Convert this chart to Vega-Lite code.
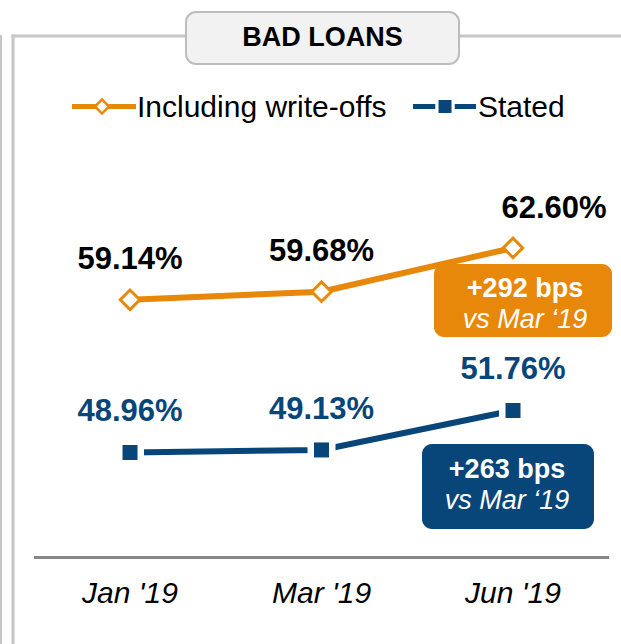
{
  "$schema": "https://vega.github.io/schema/vega-lite/v6.json",
  "width": 621,
  "height": 644,
  "padding": 0,
  "autosize": {"type": "none"},
  "background": "#ffffff",
  "config": {
    "view": {"stroke": null},
    "axis": {"disable": true},
    "font": "Liberation Sans"
  },
  "datasets": {
    "points": [
      {"month": "Jan '19", "i": 0, "series": "Including write-offs", "value": 59.14, "label": "59.14%"},
      {"month": "Mar '19", "i": 1, "series": "Including write-offs", "value": 59.68, "label": "59.68%"},
      {"month": "Jun '19", "i": 2, "series": "Including write-offs", "value": 62.60, "label": "62.60%"},
      {"month": "Jan '19", "i": 0, "series": "Stated", "value": 48.96, "label": "48.96%"},
      {"month": "Mar '19", "i": 1, "series": "Stated", "value": 49.13, "label": "49.13%"},
      {"month": "Jun '19", "i": 2, "series": "Stated", "value": 51.76, "label": "51.76%"}
    ],
    "callouts": [
      {"series": "Including write-offs", "delta": "+292 bps", "vs": "vs Mar ‘19"},
      {"series": "Stated", "delta": "+263 bps", "vs": "vs Mar ‘19"}
    ],
    "one": [{}]
  },
  "layer": [
    {
      "data": {"name": "points"},
      "mark": {"type": "line", "strokeWidth": 6},
      "encoding": {
        "x": {"field": "i", "type": "quantitative", "scale": {"domain": [-0.6789, 2.5639], "nice": false, "zero": false}},
        "y": {"field": "value", "type": "quantitative", "scale": {"domain": [36.193, 79.127], "nice": false, "zero": false}},
        "color": {"field": "series", "type": "nominal", "scale": {"domain": ["Including write-offs", "Stated"], "range": ["#E8880A", "#08467A"]}, "legend": null},
        "detail": {"field": "series"}
      }
    },
    {
      "data": {"name": "one"},
      "mark": {"type": "rule", "color": "#C6C6C6", "strokeWidth": 2},
      "encoding": {"x": {"datum": -0.6737}, "y": {"datum": 76.79}, "y2": {"datum": 36.193}}
    },
    {
      "data": {"name": "one"},
      "mark": {"type": "rule", "color": "#C6C6C6", "strokeWidth": 3, "strokeCap": "square"},
      "encoding": {"x": {"datum": -0.611}, "y": {"datum": 76.727}, "y2": {"datum": 36.193}}
    },
    {
      "data": {"name": "one"},
      "mark": {"type": "rule", "color": "#C6C6C6", "strokeWidth": 3, "strokeCap": "square"},
      "encoding": {"x": {"datum": -0.611}, "x2": {"datum": 2.5639}, "y": {"datum": 76.727}}
    },
    {
      "data": {"name": "one"},
      "mark": {"type": "rect", "fill": "#F2F2F2", "stroke": "#BDBDBD", "strokeWidth": 2, "cornerRadius": 10},
      "encoding": {"x": {"datum": 0.2924}, "x2": {"datum": 1.718}, "y": {"datum": 78.327}, "y2": {"datum": 74.86}}
    },
    {
      "data": {"name": "one"},
      "mark": {"type": "text", "text": "BAD LOANS", "fontSize": 27, "fontWeight": "bold", "color": "#000000", "align": "center", "baseline": "middle", "dy": 1},
      "encoding": {"x": {"datum": 1.0052}, "y": {"datum": 76.627}}
    },
    {
      "data": {"name": "one"},
      "mark": {"type": "rule", "color": "#E8880A", "strokeWidth": 5},
      "encoding": {"x": {"datum": -0.3029}, "x2": {"datum": 0.0313}, "y": {"datum": 72.027}}
    },
    {
      "data": {"name": "one"},
      "mark": {"type": "point", "shape": "diamond", "filled": true, "fill": "#ffffff", "stroke": "#E8880A", "strokeWidth": 2.5, "size": 200, "opacity": 1},
      "encoding": {"x": {"datum": -0.1463}, "y": {"datum": 72.027}}
    },
    {
      "data": {"name": "one"},
      "mark": {"type": "text", "text": "Including write-offs", "fontSize": 30, "color": "#000000", "align": "left", "baseline": "middle", "dy": 2},
      "encoding": {"x": {"datum": 0.0365}, "y": {"datum": 72.027}}
    },
    {
      "data": {"name": "one"},
      "mark": {"type": "rule", "color": "#08467A", "strokeWidth": 5},
      "encoding": {"x": {"datum": 1.4777}, "x2": {"datum": 1.8067}, "y": {"datum": 72.027}}
    },
    {
      "data": {"name": "one"},
      "mark": {"type": "square", "color": "#ffffff", "size": 380, "opacity": 1},
      "encoding": {"x": {"datum": 1.6449}, "y": {"datum": 72.027}}
    },
    {
      "data": {"name": "one"},
      "mark": {"type": "square", "color": "#08467A", "size": 169, "opacity": 1},
      "encoding": {"x": {"datum": 1.6449}, "y": {"datum": 72.027}}
    },
    {
      "data": {"name": "one"},
      "mark": {"type": "text", "text": "Stated", "fontSize": 30, "color": "#000000", "align": "left", "baseline": "middle", "dy": 2},
      "encoding": {"x": {"datum": 1.8172}, "y": {"datum": 72.027}}
    },
    {
      "data": {"name": "points"},
      "transform": [{"filter": "datum.series === 'Including write-offs'"}],
      "mark": {"type": "point", "shape": "diamond", "filled": true, "fill": "#ffffff", "stroke": "#E8880A", "strokeWidth": 3, "size": 380, "opacity": 1},
      "encoding": {"x": {"field": "i", "type": "quantitative"}, "y": {"field": "value", "type": "quantitative"}}
    },
    {
      "data": {"name": "points"},
      "transform": [{"filter": "datum.series === 'Stated'"}],
      "mark": {"type": "square", "color": "#ffffff", "size": 784, "opacity": 1},
      "encoding": {"x": {"field": "i", "type": "quantitative"}, "y": {"field": "value", "type": "quantitative"}}
    },
    {
      "data": {"name": "points"},
      "transform": [{"filter": "datum.series === 'Stated'"}],
      "mark": {"type": "square", "color": "#08467A", "size": 225, "opacity": 1},
      "encoding": {"x": {"field": "i", "type": "quantitative"}, "y": {"field": "value", "type": "quantitative"}}
    },
    {
      "data": {"name": "points"},
      "transform": [{"filter": "!(datum.series === 'Including write-offs' && datum.i === 2)"}],
      "mark": {"type": "text", "fontSize": 31, "fontWeight": "bold", "align": "center", "baseline": "middle", "dy": -40},
      "encoding": {
        "x": {"field": "i", "type": "quantitative"},
        "y": {"field": "value", "type": "quantitative"},
        "text": {"field": "label"},
        "color": {"condition": {"test": "datum.series === 'Stated'", "value": "#08467A"}, "value": "#000000"}
      }
    },
    {
      "data": {"name": "points"},
      "transform": [{"filter": "datum.series === 'Including write-offs' && datum.i === 2"}],
      "mark": {"type": "text", "fontSize": 31, "fontWeight": "bold", "align": "center", "baseline": "middle", "dy": -39, "dx": 41, "color": "#000000"},
      "encoding": {
        "x": {"field": "i", "type": "quantitative"},
        "y": {"field": "value", "type": "quantitative"},
        "text": {"field": "label"}
      }
    },
    {
      "data": {"name": "one"},
      "mark": {"type": "rule", "color": "#878787", "strokeWidth": 3},
      "encoding": {"x": {"datum": -0.5014}, "x2": {"datum": 2.5013}, "y": {"datum": 41.96}}
    },
    {
      "data": {"name": "points"},
      "transform": [{"filter": "datum.series === 'Stated'"}],
      "mark": {"type": "text", "fontSize": 30, "fontStyle": "italic", "color": "#000000", "align": "center", "baseline": "middle", "dy": 1},
      "encoding": {
        "x": {"field": "i", "type": "quantitative"},
        "y": {"datum": 39.593},
        "text": {"field": "month"}
      }
    },
    {
      "data": {"name": "one"},
      "mark": {"type": "rect", "color": "#E8880A", "cornerRadius": 10, "opacity": 1},
      "encoding": {"x": {"datum": 1.5874}, "x2": {"datum": 2.5169}, "y": {"datum": 61.527}, "y2": {"datum": 56.66}}
    },
    {
      "data": {"name": "callouts"},
      "transform": [{"filter": "datum.series === 'Including write-offs'"}],
      "mark": {"type": "text", "fontSize": 27, "fontWeight": "bold", "color": "#ffffff", "align": "center", "baseline": "middle", "dy": 1},
      "encoding": {"x": {"datum": 2.0626}, "y": {"datum": 59.96}, "text": {"field": "delta"}}
    },
    {
      "data": {"name": "callouts"},
      "transform": [{"filter": "datum.series === 'Including write-offs'"}],
      "mark": {"type": "text", "fontSize": 27, "fontStyle": "italic", "color": "#ffffff", "align": "center", "baseline": "middle", "dy": 1},
      "encoding": {"x": {"datum": 2.0626}, "y": {"datum": 57.86}, "text": {"field": "vs"}}
    },
    {
      "data": {"name": "one"},
      "mark": {"type": "rect", "color": "#08467A", "cornerRadius": 10, "opacity": 1},
      "encoding": {"x": {"datum": 1.5248}, "x2": {"datum": 2.4229}, "y": {"datum": 49.527}, "y2": {"datum": 43.86}}
    },
    {
      "data": {"name": "callouts"},
      "transform": [{"filter": "datum.series === 'Stated'"}],
      "mark": {"type": "text", "fontSize": 27, "fontWeight": "bold", "color": "#ffffff", "align": "center", "baseline": "middle", "dy": 1},
      "encoding": {"x": {"datum": 1.9686}, "y": {"datum": 47.86}, "text": {"field": "delta"}}
    },
    {
      "data": {"name": "callouts"},
      "transform": [{"filter": "datum.series === 'Stated'"}],
      "mark": {"type": "text", "fontSize": 27, "fontStyle": "italic", "color": "#ffffff", "align": "center", "baseline": "middle", "dy": 1},
      "encoding": {"x": {"datum": 1.9686}, "y": {"datum": 45.79}, "text": {"field": "vs"}}
    }
  ]
}
